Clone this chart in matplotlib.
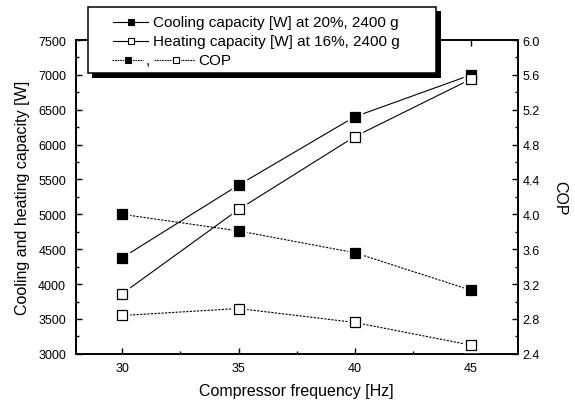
import matplotlib
matplotlib.use("Agg")
import matplotlib.pyplot as plt
from matplotlib.lines import Line2D
from matplotlib.patches import Rectangle
from matplotlib.ticker import MultipleLocator

plt.rcParams["font.family"] = ["Liberation Sans", "DejaVu Sans"]

# data
freq = [30, 35, 40, 45]
cooling_cap = [4380, 5420, 6400, 7000]
heating_cap = [3865, 5070, 6115, 6940]
cop_cooling = [4.00, 3.81, 3.56, 3.13]
cop_heating = [2.84, 2.92, 2.76, 2.50]

legend_labels = [
    "Cooling capacity [W] at 20%, 2400 g",
    "Heating capacity [W] at 16%, 2400 g",
    "COP",
]

fig = plt.figure(figsize=(5.75, 4.06), dpi=100)
ax = fig.add_axes([0.132, 0.126, 0.768, 0.773])
ax2 = ax.twinx()


def draw_series(axis, x, y, filled, ls):
    # line, then a white halo so the line stops short of the marker
    axis.plot(x, y, color="black", lw=0.8, ls=ls, zorder=2)
    axis.plot(x, y, ls="none", marker="s", ms=10.5, mfc="white", mec="white", zorder=3)
    axis.plot(x, y, ls="none", marker="s", ms=7.2, mec="black", mew=0.9,
              mfc="black" if filled else "white", zorder=4)


dotted = (0, (2.0, 1.2))
draw_series(ax, freq, cooling_cap, True, "-")
draw_series(ax, freq, heating_cap, False, "-")
draw_series(ax2, freq, cop_cooling, True, dotted)
draw_series(ax2, freq, cop_heating, False, dotted)

ax.set_xlim(28, 47)
ax.set_ylim(3000, 7500)
ax2.set_ylim(2.4, 6.0)
ax.xaxis.set_major_locator(MultipleLocator(5))
ax.xaxis.set_minor_locator(MultipleLocator(2.5))
ax.yaxis.set_major_locator(MultipleLocator(500))
ax.yaxis.set_minor_locator(MultipleLocator(250))
ax2.yaxis.set_major_locator(MultipleLocator(0.4))
ax2.yaxis.set_minor_locator(MultipleLocator(0.2))
ax2.yaxis.set_major_formatter(plt.FormatStrFormatter("%.1f"))

ax.tick_params(axis="x", which="both", direction="in", top=True, width=1.0, labelsize=9, pad=6)
ax.tick_params(axis="y", which="both", direction="in", right=False, width=1.0, labelsize=9, pad=7)
ax2.tick_params(axis="y", which="both", direction="in", width=1.0, labelsize=9, pad=3.5)
for a in (ax, ax2):
    a.tick_params(which="major", length=4.5)
    a.tick_params(which="minor", length=2.3)
    for sp in a.spines.values():
        sp.set_linewidth(1.2)

ax.set_xlabel("Compressor frequency [Hz]", fontsize=11.5, labelpad=6)
ax.set_ylabel("Cooling and heating capacity [W]", fontsize=11.5, labelpad=6)
ax2.set_ylabel("COP", fontsize=11.5, rotation=270, labelpad=20)

# legend box drawn in pixel units to keep the Origin-style layout
lg = fig.add_axes([87 / 575, 1 - 79 / 406, 354 / 575, 72 / 406], zorder=10)
lg.set_xlim(0, 354)
lg.set_ylim(72, 0)
lg.axis("off")
lg.add_patch(Rectangle((5, 5), 349, 67, facecolor="black", edgecolor="black", lw=0))
lg.add_patch(Rectangle((0.7, 0.7), 348, 66, facecolor="white", edgecolor="black", lw=1.1))

row_y = [16, 35, 54]
fills = ["black", "white"]
for y, fc, label in zip(row_y[:2], fills, legend_labels[:2]):
    lg.add_line(Line2D([26, 61], [y, y], color="black", lw=0.8))
    lg.add_line(Line2D([43.5], [y], ls="none", marker="s", ms=4.5, mfc=fc, mec="black", mew=0.8))
    lg.text(66, y, label, fontsize=11, va="center", ha="left")

y = row_y[2]
lg.add_line(Line2D([25, 56], [y, y], color="black", lw=0.8, ls=(0, (1.5, 0.8))))
lg.add_line(Line2D([41], [y], ls="none", marker="s", ms=4.5, mfc="white", mec="white", mew=2))
lg.add_line(Line2D([41], [y], ls="none", marker="s", ms=4.5, mfc="black", mec="black", mew=0.8))
lg.text(59, y, ",", fontsize=11, va="center", ha="left")
lg.add_line(Line2D([67, 108], [y, y], color="black", lw=0.8, ls=(0, (1.5, 0.8))))
lg.add_line(Line2D([89], [y], ls="none", marker="s", ms=4.5, mfc="white", mec="white", mew=2))
lg.add_line(Line2D([89], [y], ls="none", marker="s", ms=4.5, mfc="white", mec="black", mew=0.8))
lg.text(111, y, legend_labels[2], fontsize=11, va="center", ha="left")

fig.savefig("out.png", dpi=100)
plt.close(fig)
